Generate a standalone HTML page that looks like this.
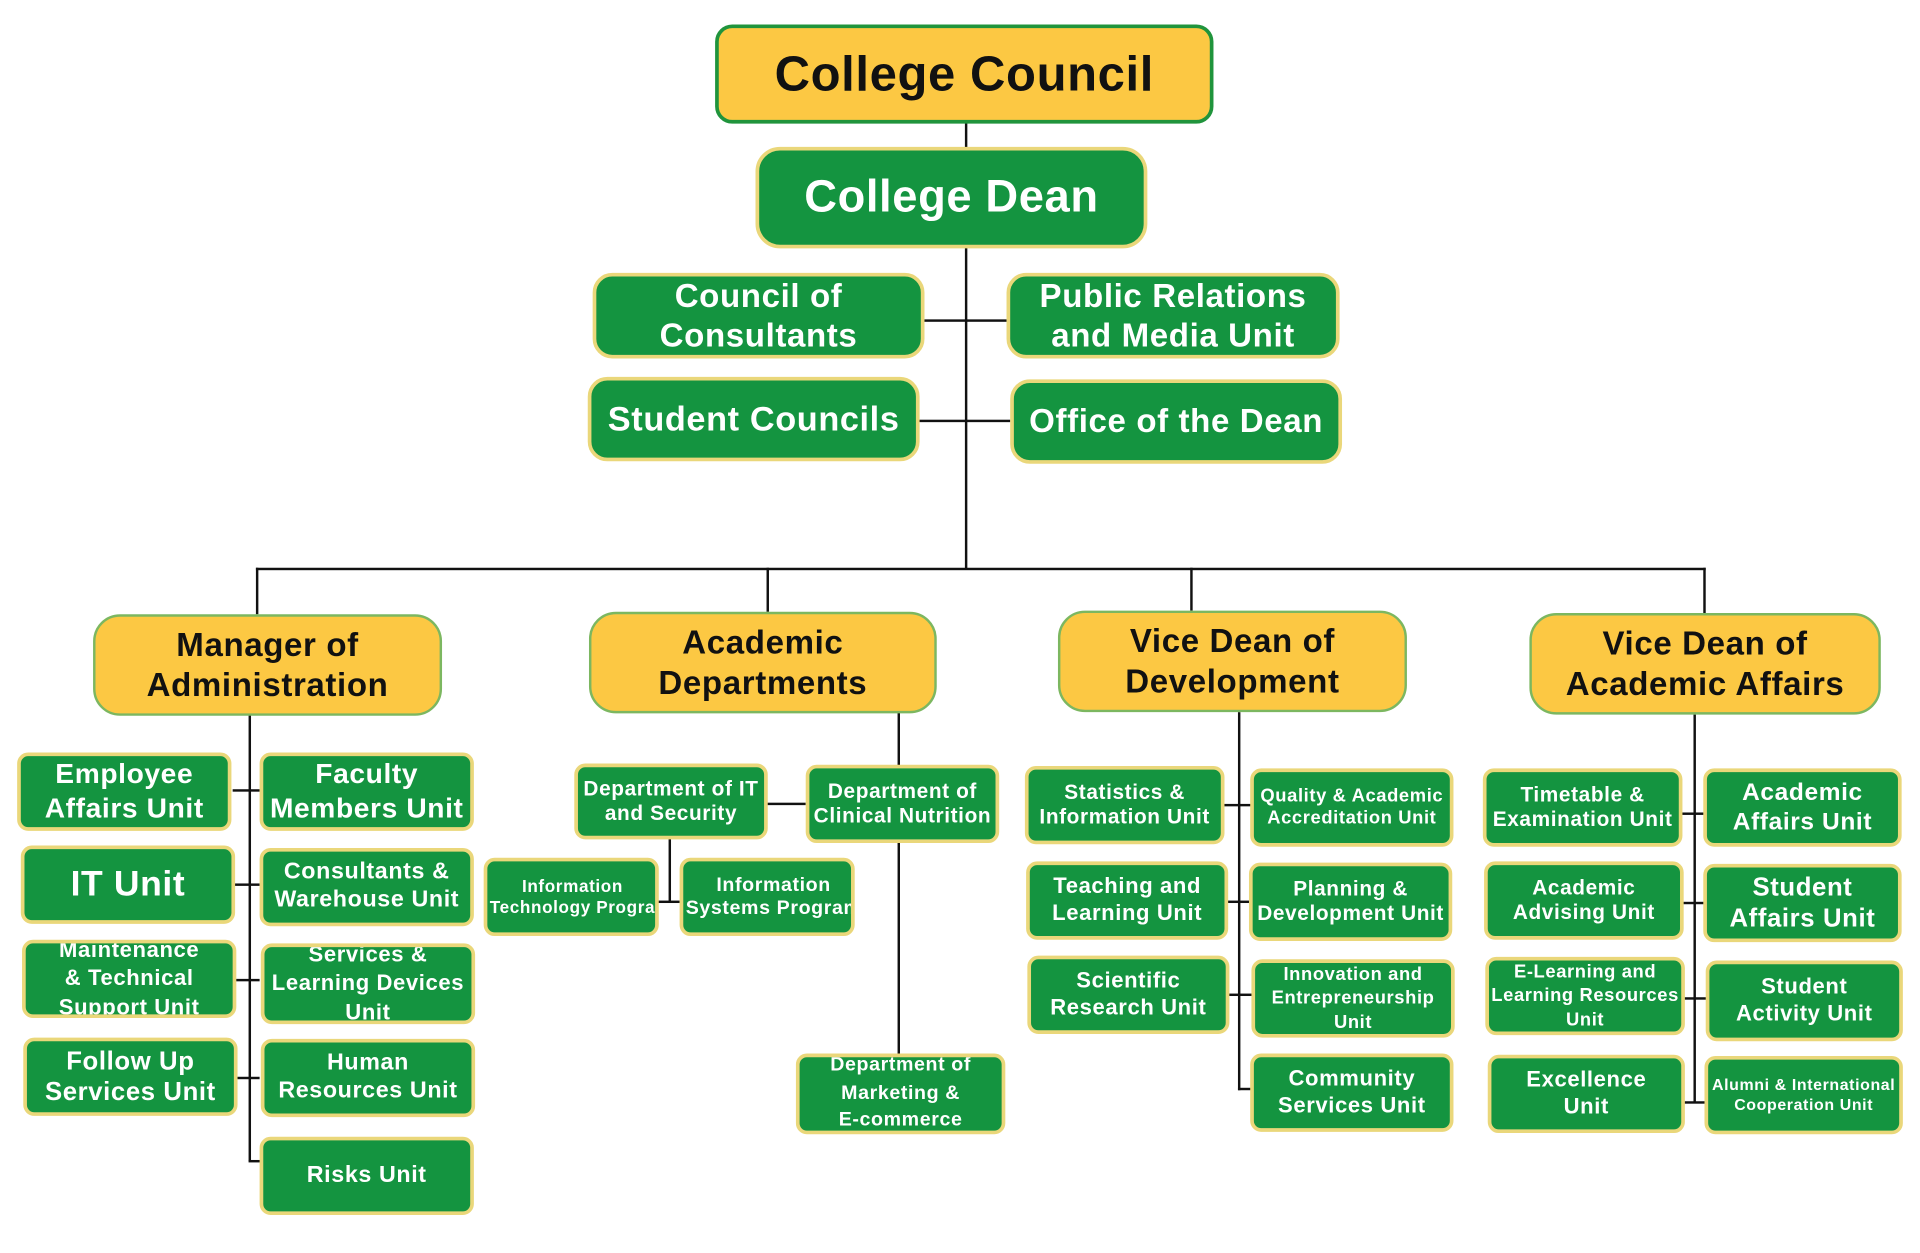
<!DOCTYPE html>
<html><head><meta charset="utf-8"><style>
html,body{margin:0;padding:0;background:#fff;width:1920px;height:1253px;overflow:hidden}
#w{position:absolute;left:0;top:0;width:1568px;height:1024px;transform:scale(1.22449,1.2236);transform-origin:0 0}
.b{position:absolute;box-sizing:border-box;display:flex;align-items:center;justify-content:center;text-align:center;font-family:"Liberation Sans",sans-serif;font-weight:bold;line-height:1.2;letter-spacing:0.5px;white-space:nowrap;overflow:hidden}
.g{background:#149440;border:3px solid #ead77a;border-radius:9px;color:#fff;font-size:19px}
.o{background:#fcc843;border:2px solid #7cb760;border-radius:22px;color:#111;font-size:27px}
.l{position:absolute;background:#111}
.h{height:2px}.v{width:2px}
</style></head><body><div id="w">
<div class="l v" style="left:788px;top:100px;height:365px"></div>
<div class="l h" style="left:754px;top:261px;width:68px"></div>
<div class="l h" style="left:750px;top:343px;width:75px"></div>
<div class="l h" style="left:209px;top:464px;width:1184px"></div>
<div class="l v" style="left:209px;top:464px;height:38px"></div>
<div class="l v" style="left:626px;top:464px;height:36px"></div>
<div class="l v" style="left:972px;top:464px;height:35px"></div>
<div class="l v" style="left:1391px;top:464px;height:37px"></div>
<div class="l v" style="left:203px;top:584px;height:365px"></div>
<div class="l h" style="left:190px;top:645px;width:22px"></div>
<div class="l h" style="left:190px;top:722px;width:22px"></div>
<div class="l h" style="left:190px;top:800px;width:22px"></div>
<div class="l h" style="left:190px;top:880px;width:22px"></div>
<div class="l h" style="left:203px;top:948px;width:10px"></div>
<div class="l v" style="left:733px;top:582px;height:282px"></div>
<div class="l h" style="left:626px;top:656px;width:32px"></div>
<div class="l v" style="left:546px;top:685px;height:52px"></div>
<div class="l h" style="left:537px;top:736px;width:18px"></div>
<div class="l v" style="left:1011px;top:582px;height:309px"></div>
<div class="l h" style="left:999px;top:657px;width:23px"></div>
<div class="l h" style="left:1002px;top:736px;width:20px"></div>
<div class="l h" style="left:1003px;top:812px;width:20px"></div>
<div class="l h" style="left:1011px;top:889px;width:12px"></div>
<div class="l v" style="left:1383px;top:584px;height:317px"></div>
<div class="l h" style="left:1373px;top:664px;width:20px"></div>
<div class="l h" style="left:1374px;top:737px;width:19px"></div>
<div class="l h" style="left:1375px;top:815px;width:19px"></div>
<div class="l h" style="left:1375px;top:900px;width:19px"></div>

<div class="b o" style="left:584px;top:20px;width:407px;height:81px;border:3px solid #20943c;border-radius:14px;font-size:40px">College Council</div>
<div class="b g" style="left:617px;top:120px;width:320px;height:83px;font-size:37px;border-radius:20px">College Dean</div>
<div class="b g" style="left:484px;top:223px;width:271px;height:70px;font-size:27px;border-radius:16px">Council of<br>Consultants</div>
<div class="b g" style="left:822px;top:223px;width:272px;height:70px;font-size:27px;border-radius:16px">Public Relations<br>and Media Unit</div>
<div class="b g" style="left:480px;top:308px;width:271px;height:69px;font-size:28px;border-radius:16px">Student Councils</div>
<div class="b g" style="left:825px;top:310px;width:271px;height:69px;font-size:27px;border-radius:16px">Office of the Dean</div>

<div class="b o" style="left:76px;top:502px;width:285px;height:83px">Manager of<br>Administration</div>
<div class="b o" style="left:481px;top:500px;width:284px;height:83px">Academic<br>Departments</div>
<div class="b o" style="left:864px;top:499px;width:285px;height:83px">Vice Dean of<br>Development</div>
<div class="b o" style="left:1249px;top:501px;width:287px;height:83px">Vice Dean of<br>Academic Affairs</div>

<div class="b g" style="left:14px;top:615px;width:175px;height:64px;font-size:23px">Employee<br>Affairs Unit</div>
<div class="b g" style="left:212px;top:615px;width:175px;height:64px;font-size:23px">Faculty<br>Members Unit</div>
<div class="b g" style="left:17px;top:691px;width:175px;height:64px;font-size:29px">IT Unit</div>
<div class="b g" style="left:212px;top:693px;width:175px;height:64px">Consultants &amp;<br>Warehouse Unit</div>
<div class="b g" style="left:18px;top:768px;width:175px;height:64px;font-size:18px;line-height:1.3">Maintenance<br>&amp; Technical<br>Support Unit</div>
<div class="b g" style="left:213px;top:771px;width:175px;height:66px;font-size:18px;line-height:1.3">Services &amp;<br>Learning Devices<br>Unit</div>
<div class="b g" style="left:19px;top:848px;width:175px;height:64px;font-size:21px">Follow Up<br>Services Unit</div>
<div class="b g" style="left:213px;top:849px;width:175px;height:64px">Human<br>Resources Unit</div>
<div class="b g" style="left:212px;top:929px;width:175px;height:64px">Risks Unit</div>

<div class="b g" style="left:469px;top:624px;width:158px;height:62px;font-size:17px">Department of IT<br>and Security</div>
<div class="b g" style="left:658px;top:625px;width:158px;height:64px;font-size:17px">Department of<br>Clinical Nutrition</div>
<div class="b g" style="left:395px;top:701px;width:143px;height:64px;font-size:14px;justify-content:flex-start;padding-left:2px"><span style="width:100%">Information<br>Technology Program</span></div>
<div class="b g" style="left:555px;top:701px;width:143px;height:64px;font-size:16px;justify-content:flex-start;padding-left:2px"><span>Information<br>Systems Program</span></div>
<div class="b g" style="left:650px;top:861px;width:171px;height:66px;font-size:16px;line-height:1.4">Department of<br>Marketing &amp;<br>E-commerce</div>

<div class="b g" style="left:837px;top:626px;width:163px;height:64px;font-size:17px">Statistics &amp;<br>Information Unit</div>
<div class="b g" style="left:1021px;top:628px;width:166px;height:64px;font-size:15px">Quality &amp; Academic<br>Accreditation Unit</div>
<div class="b g" style="left:838px;top:704px;width:165px;height:64px;font-size:18px">Teaching and<br>Learning Unit</div>
<div class="b g" style="left:1020px;top:705px;width:166px;height:64px;font-size:17px">Planning &amp;<br>Development Unit</div>
<div class="b g" style="left:839px;top:781px;width:165px;height:64px;font-size:18px">Scientific<br>Research Unit</div>
<div class="b g" style="left:1022px;top:784px;width:166px;height:64px;font-size:15px;line-height:1.3">Innovation and<br>Entrepreneurship<br>Unit</div>
<div class="b g" style="left:1021px;top:861px;width:166px;height:64px;font-size:18px">Community<br>Services Unit</div>

<div class="b g" style="left:1211px;top:628px;width:163px;height:64px;font-size:17px">Timetable &amp;<br>Examination Unit</div>
<div class="b g" style="left:1391px;top:628px;width:162px;height:64px;font-size:20px">Academic<br>Affairs Unit</div>
<div class="b g" style="left:1212px;top:704px;width:163px;height:64px;font-size:17px">Academic<br>Advising Unit</div>
<div class="b g" style="left:1391px;top:706px;width:162px;height:64px;font-size:21px">Student<br>Affairs Unit</div>
<div class="b g" style="left:1213px;top:782px;width:163px;height:64px;font-size:15px;line-height:1.3">E-Learning and<br>Learning Resources<br>Unit</div>
<div class="b g" style="left:1393px;top:785px;width:161px;height:66px;font-size:18px">Student<br>Activity Unit</div>
<div class="b g" style="left:1215px;top:862px;width:161px;height:64px;font-size:18px">Excellence<br>Unit</div>
<div class="b g" style="left:1392px;top:863px;width:162px;height:64px;font-size:13px">Alumni &amp; International<br>Cooperation Unit</div>
</div></body></html>
